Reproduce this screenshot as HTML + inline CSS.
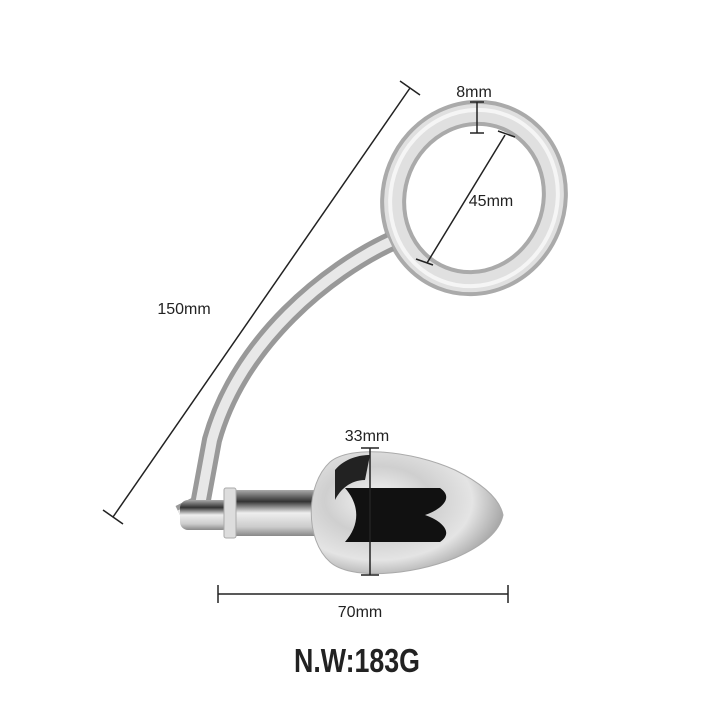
<!DOCTYPE html>
<html><head><meta charset="utf-8"><style>
html,body{margin:0;padding:0;background:#fff}
svg{display:block}
text{font-family:"Liberation Sans",sans-serif;fill:#222}
</style></head><body>
<svg width="720" height="720" viewBox="0 0 720 720" xmlns="http://www.w3.org/2000/svg">
<defs>
<linearGradient id="hz" x1="0" y1="0" x2="0" y2="1">
<stop offset="0" stop-color="#aaa"/><stop offset="0.25" stop-color="#333"/><stop offset="0.5" stop-color="#eee"/><stop offset="0.8" stop-color="#ccc"/><stop offset="1" stop-color="#888"/>
</linearGradient>
<radialGradient id="bulb" cx="0.35" cy="0.4" r="0.7">
<stop offset="0" stop-color="#f6f6f6"/><stop offset="0.4" stop-color="#cfcfcf"/><stop offset="0.7" stop-color="#e4e4e4"/><stop offset="1" stop-color="#999"/>
</radialGradient>
</defs>
<!-- ring -->
<ellipse cx="474" cy="198" rx="80" ry="86" transform="rotate(22 474 198)" fill="none" stroke="#aaa" stroke-width="26"/>
<ellipse cx="474" cy="198" rx="80" ry="86" transform="rotate(22 474 198)" fill="none" stroke="#e0e0e0" stroke-width="18"/>
<ellipse cx="474" cy="198" rx="83" ry="89" transform="rotate(22 474 198)" fill="none" stroke="#f5f5f5" stroke-width="4"/>
<!-- rod -->
<path d="M390 242 C330 270 240 340 212 440 L200 505 L180 515" fill="none" stroke="#999" stroke-width="20" stroke-linejoin="round"/>
<path d="M390 242 C330 270 240 340 212 440 L200 505 L180 515" fill="none" stroke="#e8e8e8" stroke-width="10" stroke-linejoin="round"/>
<rect x="180" y="500" width="50" height="30" rx="8" fill="url(#hz)"/>
<!-- neck -->
<rect x="228" y="490" width="95" height="46" fill="url(#hz)"/>
<rect x="224" y="488" width="12" height="50" rx="2" fill="#ddd" stroke="#aaa"/>
<!-- bulb -->
<path d="M330 462 C350 445 410 450 455 470 C485 485 500 500 503 515 C500 530 485 545 455 558 C410 576 350 580 330 562 C305 540 305 485 330 462 Z" fill="url(#bulb)" stroke="#aaa"/>
<path d="M345 488 L440 488 C455 498 440 510 425 515 C440 520 455 532 440 542 L345 542 C360 525 360 505 345 488 Z" fill="#111"/>
<path d="M335 470 C345 458 360 455 370 455 L365 480 C350 480 340 490 335 500 Z" fill="#222"/>
<!-- dimension lines -->
<g stroke="#222" stroke-width="1.5" fill="none">
<line x1="113" y1="517" x2="410" y2="88"/>
<line x1="103" y1="510" x2="123" y2="524"/>
<line x1="400" y1="81" x2="420" y2="95"/>
<line x1="477" y1="102" x2="477" y2="133"/>
<line x1="470" y1="102" x2="484" y2="102"/>
<line x1="470" y1="133" x2="484" y2="133"/>
<line x1="505" y1="135" x2="427" y2="263"/>
<line x1="498" y1="131" x2="515" y2="137"/>
<line x1="416" y1="259" x2="433" y2="265"/>
<line x1="370" y1="448" x2="370" y2="575"/>
<line x1="361" y1="448" x2="379" y2="448"/>
<line x1="361" y1="575" x2="379" y2="575"/>
<line x1="218" y1="594" x2="508" y2="594"/>
<line x1="218" y1="585" x2="218" y2="603"/>
<line x1="508" y1="585" x2="508" y2="603"/>
</g>
<text x="474" y="97" font-size="16" text-anchor="middle">8mm</text>
<text x="491" y="206" font-size="16" text-anchor="middle">45mm</text>
<text x="184" y="314" font-size="16" text-anchor="middle">150mm</text>
<text x="367" y="441" font-size="16" text-anchor="middle">33mm</text>
<text x="360" y="617" font-size="16" text-anchor="middle">70mm</text>
<g transform="translate(357 672) scale(1 1.25)">
<text x="0" y="0" font-size="27" font-weight="bold" text-anchor="middle" fill="#111" textLength="126" lengthAdjust="spacingAndGlyphs">N.W:183G</text>
</g>
</svg>
</body></html>
